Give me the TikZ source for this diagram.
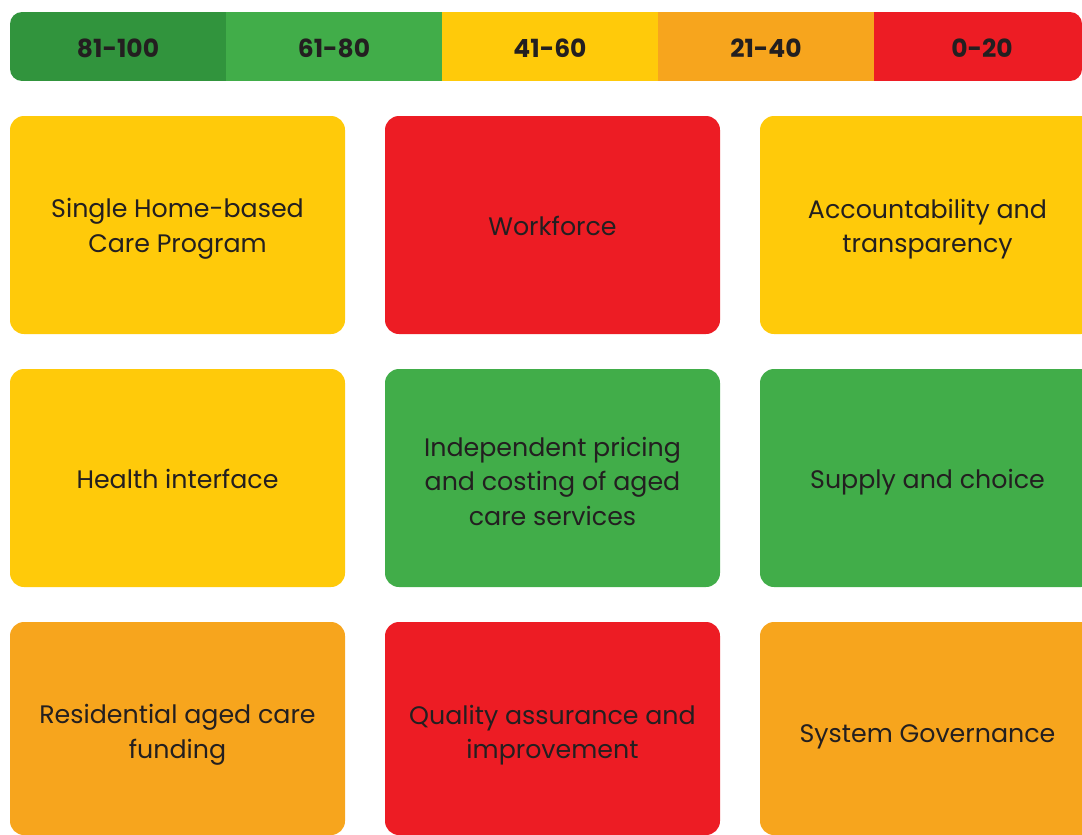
\documentclass[tikz,border=0pt]{standalone}
\usepackage{fontspec}
\setmainfont{Poppins}
\definecolor{dgreen}{HTML}{31943D}
\definecolor{lgreen}{HTML}{41AD49}
\definecolor{cyellow}{HTML}{FFCA0A}
\definecolor{corange}{HTML}{F7A51D}
\definecolor{cred}{HTML}{ED1C24}
\definecolor{ctext}{HTML}{231F20}
\tikzset{
  cell/.style={rounded corners=14pt},
  lbl/.style={text=ctext, align=center, font=\fontsize{25.3}{34.5}\selectfont, inner sep=0pt},
  barlbl/.style={text=ctext, font=\fontsize{25}{30}\bfseries\selectfont, inner sep=0pt},
}
\begin{document}
\begin{tikzpicture}[x=1pt,y=-1pt]
\useasboundingbox (0,0) rectangle (1082,835);
\begin{scope}
\clip (0,0) rectangle (1082,835);
% top bar
\begin{scope}
\clip[rounded corners=12pt] (10,12) rectangle (1082,81);
\fill[dgreen] (10,12) rectangle (226,81);
\fill[lgreen] (226,12) rectangle (442,81);
\fill[cyellow] (442,12) rectangle (658,81);
\fill[corange] (658,12) rectangle (874,81);
\fill[cred] (874,12) rectangle (1082,81);
\end{scope}
\node[barlbl] (b1) at (118,48) {81-100};
\node[barlbl] (b2) at (334,48) {61-80};
\node[barlbl] (b3) at (550,48) {41-60};
\node[barlbl] (b4) at (766,48) {21-40};
\node[barlbl] (b5) at (982,48) {0-20};
% boxes
\fill[cell, cyellow] (10,116) rectangle (345,334);
\fill[cell, cred] (385,116) rectangle (720,334);
\fill[cell, cyellow] (760,116) rectangle (1095,334);
\fill[cell, cyellow] (10,369) rectangle (345,587);
\fill[cell, lgreen] (385,369) rectangle (720,587);
\fill[cell, lgreen] (760,369) rectangle (1095,587);
\fill[cell, corange] (10,622) rectangle (345,835);
\fill[cell, cred] (385,622) rectangle (720,835);
\fill[cell, corange] (760,622) rectangle (1095,835);
\node[lbl] (t1) at (177.5,229) {Single Home-based\\Care Program};
\node[lbl] (t2) at (552.5,226) {Workforce};
\node[lbl] (t3) at (927.5,229) {Accountability and\\transparency};
\node[lbl] (t4) at (177.5,479) {Health interface};
\node[lbl] (t5) at (552.5,481) {Independent pricing\\and costing of aged\\care services};
\node[lbl] (t6) at (927.5,482) {Supply and choice};
\node[lbl] (t7) at (177.5,735) {Residential aged care\\funding};
\node[lbl] (t8) at (552.5,735) {Quality assurance and\\improvement};
\node[lbl] (t9) at (927.5,737) {System Governance};
\end{scope}
\end{tikzpicture}
\end{document}
